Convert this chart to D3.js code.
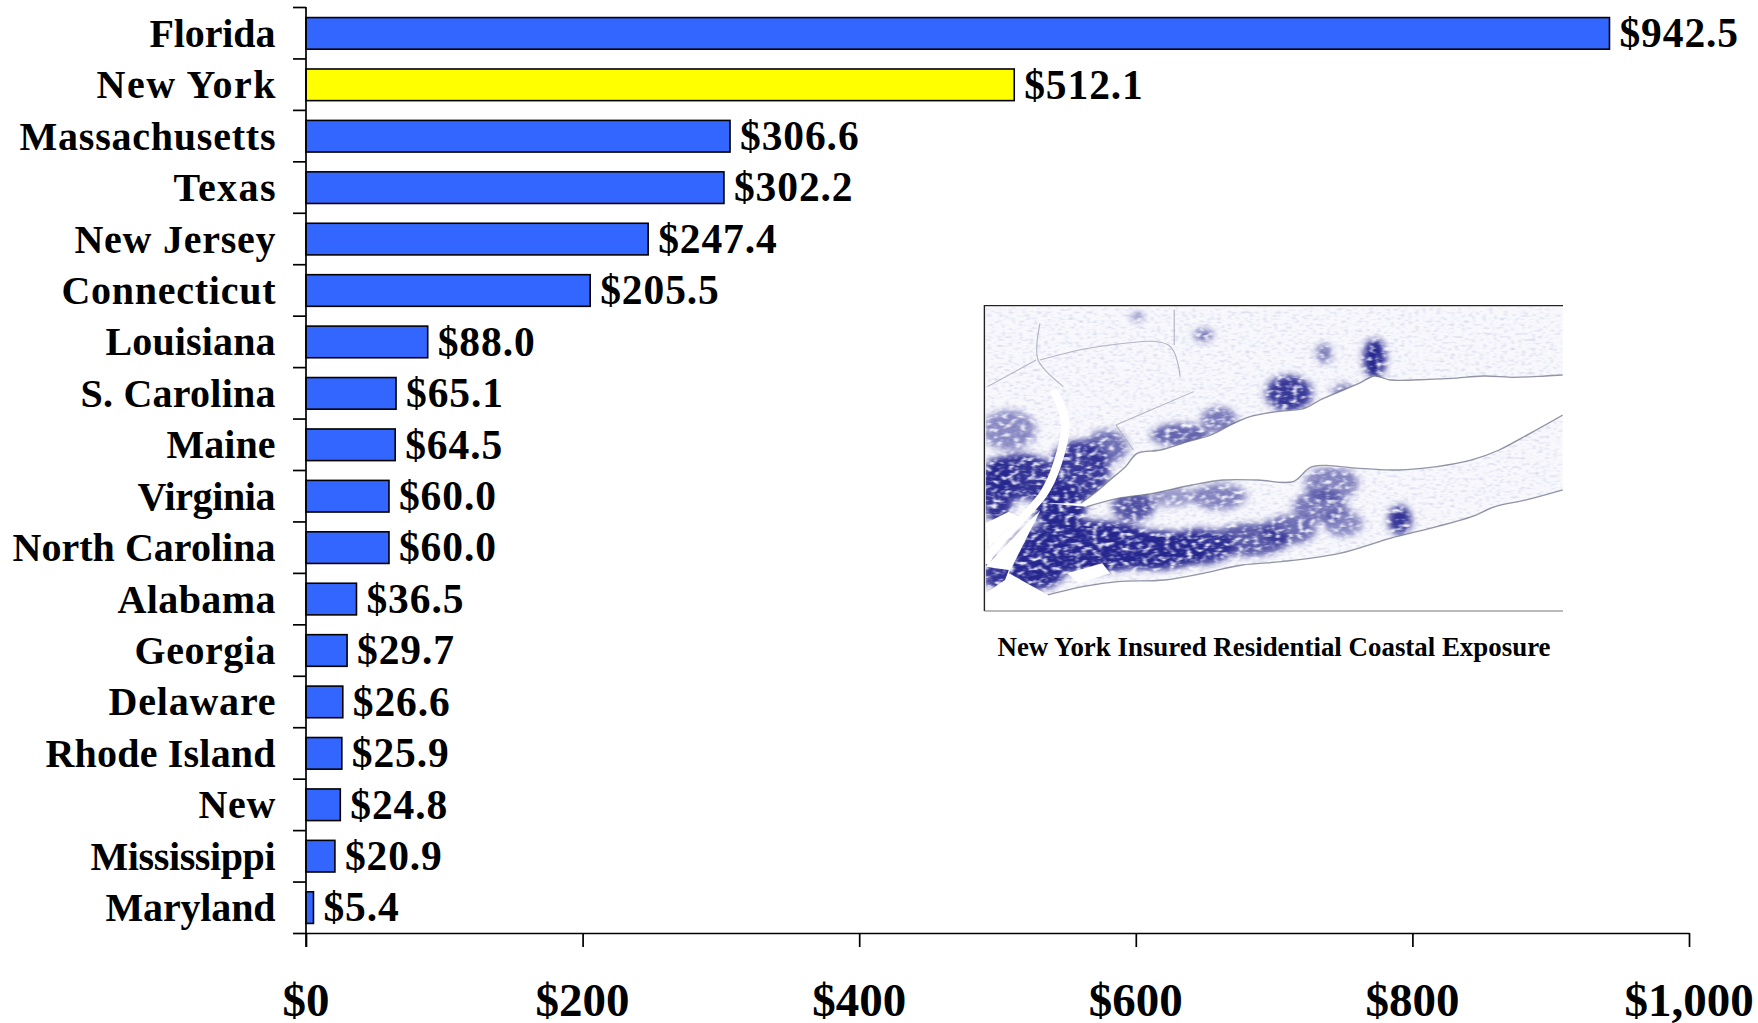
<!DOCTYPE html>
<html><head><meta charset="utf-8">
<script src="https://cdn.jsdelivr.net/npm/d3@7/dist/d3.min.js"></script>
<style>
html,body{margin:0;padding:0;background:#fff}
svg{display:block}
text{font-family:"Liberation Serif",serif;font-weight:bold;fill:#000}
</style></head><body>
<svg id="c" width="1758" height="1023"></svg>
<script>
const states=["Florida","New York","Massachusetts","Texas","New Jersey","Connecticut","Louisiana","S. Carolina","Maine","Virginia","North Carolina","Alabama","Georgia","Delaware","Rhode Island","New","Mississippi","Maryland"];
const exposure=[942.5,512.1,306.6,302.2,247.4,205.5,88.0,65.1,64.5,60.0,60.0,36.5,29.7,26.6,25.9,24.8,20.9,5.4];
const highlighted=["New York"];
const xTicks=[0,200,400,600,800,1000];
const insetCaption="New York Insured Residential Coastal Exposure";
const labelWidths=[126,179,256,102,201,214,170,195,109,138,263,158,141,167,230,77,185,170];

// Inset map sketch, in map units of the inset picture
const northShore=[[1524,255],[1480,258],[1400,262],[1320,258],[1240,265],[1180,268],[1080,270],[1040,258],[1000,280],[950,305],[900,330],[860,355],[790,365],[720,380],[670,405],[620,435],[560,455],[490,480],[430,490],[400,530],[360,570],[320,610],[285,640]];
const islandShore=[[300,650],[380,625],[470,610],[570,585],[650,570],[740,570],[830,575],[880,530],[1000,535],[1100,540],[1200,530],[1290,510],[1360,480],[1440,430],[1524,375]];
const southShore=[[1524,600],[1430,630],[1350,650],[1290,680],[1200,710],[1080,745],[950,790],[800,815],[700,825],[600,850],[500,870],[380,875],[290,890],[200,915]];
const mainlandEdge=[[40,50],[1524,50]];
const westEdge=[[200,640],[130,720],[40,830]];
const brooklynEdge=[[100,850],[190,640]];
const statenIsland=[[40,830],[100,840],[90,870],[40,910]];
const rivers=[[[215,300],[245,400],[225,520],[190,610],[130,690],[60,780],[38,820]]];
const whiteAreas=[[[40,700],[100,665],[125,680],[50,770]],[[250,850],[340,820],[360,850],[280,880]]];
const borders=[[[180,210],[330,170],[510,165],[540,260]],[[375,405],[575,305]],[[375,405],[420,480]],[[525,60],[525,165]],[[45,290],[170,210]],[[180,100],[175,210],[240,290]]];
const denseBlobs=[[300,770,200,80,1],[170,830,80,70,1],[470,780,150,60,1],[230,650,70,70,1],[590,770,90,55,.9],[720,750,100,50,.75],[820,720,70,45,.65],[280,540,80,90,.9],[350,470,55,50,.65],[130,560,90,70,.95],[70,600,45,100,.95],[70,850,40,50,.95],[100,420,70,60,.5],[960,700,50,40,.5],[900,650,70,50,.6],[930,580,70,50,.55],[640,620,70,40,.55],[520,620,60,30,.45],[420,650,55,45,.8],[1105,690,30,45,.95],[820,310,60,55,.9],[1040,205,30,60,1],[910,190,20,30,.6],[540,435,75,35,.7],[640,390,45,40,.6],[600,135,25,20,.6],[430,80,15,15,.55],[960,300,30,20,.55]];

const svg=d3.select("#c");
const plotLeft=306,plotRight=1689,plotTop=7,plotBottom=933;
const x=d3.scaleLinear().domain([0,1000]).range([plotLeft,plotRight]);
const y=d3.scaleBand().domain(states).range([plotTop+.8,plotBottom+.2]).paddingInner(0.385).paddingOuter(0.19);
const yEdges=d3.scaleLinear().domain([0,states.length]).range([plotTop,plotBottom]);

// inset
const defs=svg.append("defs");
function mottle(id,freq,slope,offset){
  const f=defs.append("filter").attr("id",id).attr("filterUnits","userSpaceOnUse").attr("x",0).attr("y",0).attr("width",1600).attr("height",1000);
  f.append("feGaussianBlur").attr("in","SourceGraphic").attr("stdDeviation",10).attr("result","base");
  f.append("feTurbulence").attr("type","fractalNoise").attr("baseFrequency",freq).attr("numOctaves",3).attr("seed",4).attr("result","noise");
  f.append("feColorMatrix").attr("in","noise").attr("type","matrix").attr("values",`0 0 0 0 0 0 0 0 0 0 0 0 0 0 0 ${slope} 0 0 0 ${offset}`).attr("result","mask");
  f.append("feComposite").attr("in","base").attr("in2","mask").attr("operator","in").attr("result","spots");
  f.append("feGaussianBlur").attr("in","spots").attr("stdDeviation",2.2);
}
mottle("mottle",0.07,4,-1.0);
mottle("speck",0.11,3,-1.5);
const closed=d3.line().curve(d3.curveLinearClosed);
const smooth=d3.line().curve(d3.curveCatmullRom);
const northLand=[...mainlandEdge,...northShore,...westEdge];
const islandLand=[...brooklynEdge,...islandShore,...southShore];
const clip=defs.append("clipPath").attr("id","landclip");
[northLand,islandLand,statenIsland].forEach(p=>clip.append("path").attr("d",closed(p)));
defs.append("clipPath").attr("id","mapclip").append("rect").attr("x",37).attr("y",47).attr("width",1487).attr("height",916);
defs.append("filter").attr("id","soft").append("feGaussianBlur").attr("stdDeviation",1.4);

const map=svg.append("g").attr("transform","translate(970,290) scale(0.389,0.3333)");
const inner=map.append("g").attr("clip-path","url(#mapclip)");
const land=inner.append("g").attr("clip-path","url(#landclip)");
land.append("rect").attr("x",37).attr("y",47).attr("width",1487).attr("height",916).attr("fill","#f9f9fd");
land.append("g").attr("filter","url(#speck)").append("rect").attr("x",37).attr("y",47).attr("width",1487).attr("height",916).attr("fill","#a8a8d8").attr("fill-opacity",.45);
land.append("g").attr("filter","url(#mottle)").selectAll("ellipse").data(denseBlobs).join("ellipse")
  .attr("cx",d=>d[0]).attr("cy",d=>d[1]).attr("rx",d=>d[2]).attr("ry",d=>d[3])
  .attr("fill","#26268f").attr("fill-opacity",d=>d[4]);
inner.append("g").selectAll("path").data(rivers).join("path")
  .attr("d",d=>smooth(d)).attr("fill","none").attr("stroke","#fff").attr("stroke-width",22);
inner.append("g").selectAll("path").data(whiteAreas).join("path").attr("d",d=>closed(d)).attr("fill","#fff");
inner.append("g").attr("filter","url(#soft)").selectAll("path").data(borders).join("path")
  .attr("d",d=>smooth(d)).attr("fill","none").attr("stroke","#b4b4c4").attr("stroke-width",3);
inner.append("g").attr("filter","url(#soft)").selectAll("path").data([southShore,northShore,islandShore]).join("path")
  .attr("d",d=>smooth(d)).attr("fill","none").attr("stroke","#5a5f78").attr("stroke-width",4).attr("stroke-opacity",.65);
svg.append("path").attr("d","M984.4,611V305.6H1563").attr("fill","none").attr("stroke","#222").attr("stroke-width",1.4);
svg.append("line").attr("x1",984.4).attr("x2",1563).attr("y1",611).attr("y2",611).attr("stroke","#777").attr("stroke-width",1);
svg.append("text").attr("x",1274).attr("y",656).attr("text-anchor","middle").attr("font-size",26.9).text(insetCaption);

// bars
svg.append("g").selectAll("rect").data(states).join("rect")
  .attr("x",x(0)).attr("y",d=>y(d)).attr("height",y.bandwidth())
  .attr("width",(d,i)=>x(exposure[i])-x(0))
  .attr("fill",d=>highlighted.includes(d)?"#ffff00":"#3366ff")
  .attr("stroke","#000").attr("stroke-width",1.6);

// axes
const ay=svg.append("g").attr("transform",`translate(${plotLeft},0)`)
  .call(d3.axisLeft(yEdges).tickValues(d3.range(states.length+1)).tickSize(13).tickSizeOuter(0).tickFormat(""));
ay.select(".domain").attr("d",`M0,${plotTop}V${plotBottom+14}`);
const ax=svg.append("g").attr("transform",`translate(0,${plotBottom})`)
  .call(d3.axisBottom(x).tickValues(xTicks).tickSize(14).tickSizeOuter(0).tickFormat(""));
svg.selectAll(".domain,.tick line").attr("stroke","#000").attr("stroke-width",1.7);

// text
svg.append("g").selectAll("text").data(states).join("text")
  .attr("x",275.5).attr("y",d=>y(d)+y.bandwidth()/2+13.5).attr("text-anchor","end")
  .attr("font-size",40).attr("textLength",(d,i)=>labelWidths[i]).attr("lengthAdjust","spacing").text(d=>d);
svg.append("g").selectAll("text").data(states).join("text")
  .attr("x",(d,i)=>x(exposure[i])+10).attr("y",d=>y(d)+y.bandwidth()/2+13.8)
  .attr("font-size",41.5).attr("letter-spacing",0.9).text((d,i)=>"$"+exposure[i].toFixed(1));
svg.append("g").selectAll("text").data(xTicks).join("text")
  .attr("x",d=>x(d)).attr("y",1016).attr("text-anchor","middle")
  .attr("font-size",47).text(d=>"$"+d3.format(",")(d));
</script></body></html>
